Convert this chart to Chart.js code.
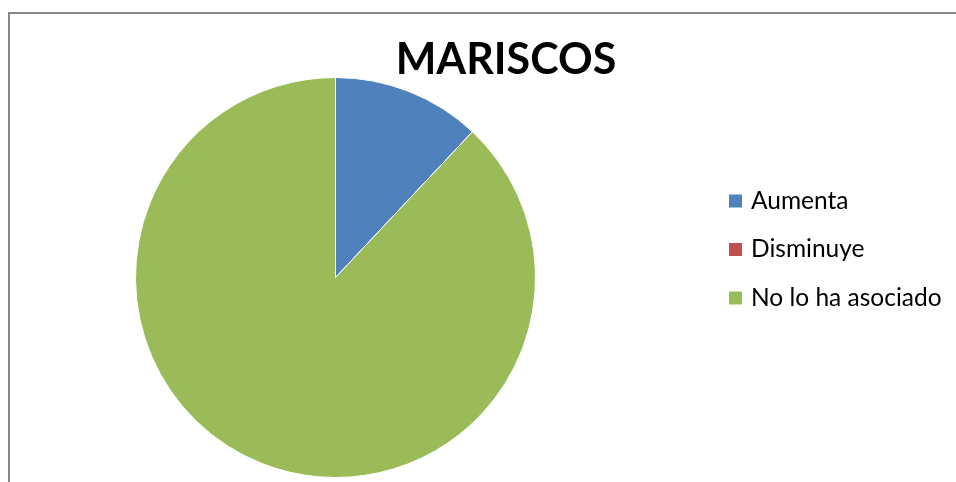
<!DOCTYPE html>
<html>
<head>
<meta charset="utf-8">
<script src="https://cdn.jsdelivr.net/npm/chart.js@4/dist/chart.umd.min.js"></script>
<style>
  html, body { margin: 0; padding: 0; background: #fff; overflow: hidden; }
  #wrap { position: relative; width: 956px; height: 482px; }
  #frame {
    position: absolute; left: 8px; top: 12px; width: 960px; height: 480px;
    border-left: 2px solid #878787; border-top: 2px solid #878787;
  }
  #chart { position: absolute; left: 0; top: 0; }
</style>
</head>
<body>
<div id="wrap">
  <div id="frame"></div>
  <canvas id="chart" width="956" height="482"></canvas>
</div>
<script>
const title = 'MARISCOS';
const categories = ['Aumenta', 'Disminuye', 'No lo ha asociado'];
const values = [12, 0, 88];
const colors = ['#4F81BD', '#C0504D', '#9BBB59'];

// title and legend are painted by hand so they don't eat into the pie area
const sideText = {
  id: 'sideText',
  afterDraw(chart) {
    const ctx = chart.ctx;
    ctx.save();
    ctx.fillStyle = '#000';
    ctx.textBaseline = 'middle';
    ctx.textAlign = 'center';
    ctx.font = 'bold 43px Lato, "Liberation Sans", sans-serif';
    ctx.fillText(title, 506, 60);

    ctx.textAlign = 'left';
    ctx.font = '24.5px Lato, "Liberation Sans", sans-serif';
    const ds = chart.data.datasets[0];
    chart.data.labels.forEach((label, i) => {
      const y = 201 + i * 48.5;
      ctx.fillStyle = ds.backgroundColor[i];
      ctx.fillRect(729, y - 6.5, 13, 13);
      ctx.fillStyle = '#000';
      ctx.fillText(label, 751, y);
    });
    ctx.restore();
  }
};

new Chart(document.getElementById('chart').getContext('2d'), {
  type: 'pie',
  data: {
    labels: categories,
    datasets: [{
      data: values,
      backgroundColor: colors,
      borderColor: '#fff',
      borderWidth: 1
    }]
  },
  options: {
    responsive: false,
    animation: false,
    layout: { padding: { left: 135, right: 420, top: 77, bottom: 4 } },
    plugins: {
      legend: { display: false },
      title: { display: false },
      tooltip: { enabled: false }
    }
  },
  plugins: [sideText]
});
</script>
</body>
</html>
